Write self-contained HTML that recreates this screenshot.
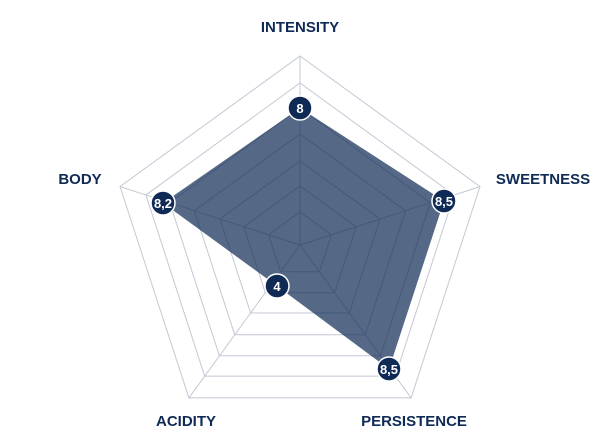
<!DOCTYPE html>
<html><head><style>
html,body{margin:0;padding:0;background:#fff;}
svg{display:block;}
text{font-family:"Liberation Sans",sans-serif;font-weight:bold;}
</style></head><body>
<svg width="601" height="441" viewBox="0 0 601 441" xmlns="http://www.w3.org/2000/svg">
<g fill="none" stroke="#c3c8d4" stroke-width="1">
<polygon points="300,56 480,186.6 411.1,397.9 188.9,397.9 120,186.6"/>
<polygon points="300,83 454.1,195 395.3,376.1 204.7,376.1 145.9,195"/>
<polygon points="300,108 430.3,202.7 380.6,355.8 219.4,355.8 169.7,202.7"/>
<polygon points="300,134 405.6,210.7 365.3,334.8 234.7,334.8 194.4,210.7"/>
<polygon points="300,161 379.9,219 349.4,313 250.6,313 220.1,219"/>
<polygon points="300,186 356.1,226.8 334.7,292.7 265.3,292.7 243.9,226.8"/>
<polygon points="300,212 331.4,234.8 319.4,271.7 280.6,271.7 268.6,234.8"/>
<line x1="300" y1="245" x2="300" y2="56"/>
<line x1="300" y1="245" x2="480" y2="186.6"/>
<line x1="300" y1="245" x2="411.1" y2="397.9"/>
<line x1="300" y1="245" x2="188.9" y2="397.9"/>
<line x1="300" y1="245" x2="120" y2="186.6"/>
</g>
<polygon points="300,108 444,201 389,369 277,286 163,203" fill="#0f2a55" fill-opacity="0.71"/>
<g fill="#0f2a55" stroke="#fff" stroke-width="1.5">
<circle cx="300" cy="108" r="12"/>
<circle cx="444" cy="201" r="12"/>
<circle cx="389" cy="369" r="12"/>
<circle cx="277" cy="286" r="12"/>
<circle cx="163" cy="203" r="12"/>
</g>
<g fill="#fff" font-size="13" text-anchor="middle">
<text x="300" y="113">8</text>
<text x="444" y="206">8,5</text>
<text x="389" y="374">8,5</text>
<text x="277" y="291">4</text>
<text x="163" y="208">8,2</text>
</g>
<g fill="#0f2a55" font-size="15" text-anchor="middle">
<text x="300" y="32">INTENSITY</text>
<text x="543" y="184">SWEETNESS</text>
<text x="80" y="184">BODY</text>
<text x="186" y="426">ACIDITY</text>
<text x="414" y="426">PERSISTENCE</text>
</g>
</svg>
</body></html>
